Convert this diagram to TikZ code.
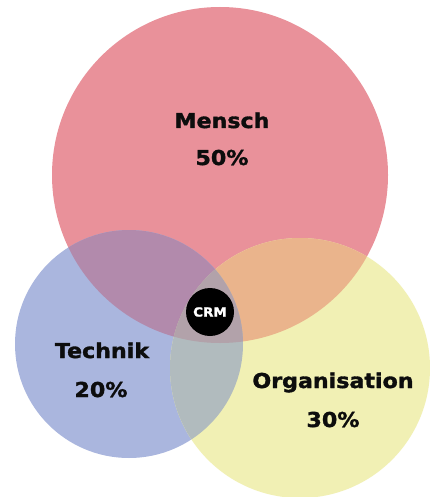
\documentclass[tikz,border=0pt]{standalone}
\usepackage{fontspec}
\usepackage{tikz}
\usetikzlibrary{positioning}

\newfontfamily\vennfont[FakeStretch=1.08, BoldFeatures={FakeBold=1.6}]{DejaVu Sans}

\definecolor{menschred}{RGB}{233,145,154}
\definecolor{technikblue}{RGB}{170,182,222}
\definecolor{orgyellow}{RGB}{241,240,180}
\definecolor{redblue}{RGB}{178,138,172}
\definecolor{redyellow}{RGB}{234,180,140}
\definecolor{blueyellow}{RGB}{177,187,190}
\definecolor{allthree}{RGB}{178,162,170}

\begin{document}
\begin{tikzpicture}[
            x=1pt, y=-1pt,
            area/.style={circle, inner sep=0pt, draw=none},
            caption/.style={font=\vennfont\bfseries\fontsize{20.5}{21}\selectfont, text=black!95, anchor=base, inner sep=0pt},
            core/.style={circle, fill=black, inner sep=0pt, minimum size=48pt, text=white, font=\vennfont\bfseries\fontsize{12.5}{13}\selectfont}
        ]
        \useasboundingbox[fill=white] (0,0) rectangle (430,497);
        % The three areas
        \node[area, fill=menschred, minimum size=336pt] (mensch) at (220,175) {};
        \node[area, fill=technikblue, minimum size=228pt] (technik) at (129,344) {};
        \node[area, fill=orgyellow, minimum size=260pt] (organisation) at (300,368) {};
        % Overlaps
        \begin{scope}
            \clip (220,175) circle (168);
            \fill[redblue] (129,344) circle (114);
            \fill[redyellow] (300,368) circle (130);
        \end{scope}
        \begin{scope}
            \clip (129,344) circle (114);
            \fill[blueyellow] (300,368) circle (130);
            \clip (220,175) circle (168);
            \fill[allthree] (300,368) circle (130);
        \end{scope}
        % Centre
        \node[core] (crm) at (210,312) {CRM};
        % Labels
        \node[caption] (menschname) at (222,128) {Mensch};
        \node[caption] (menschshare) at (222,165) {50\%};
        \node[caption] (techname) at (102,358) {Technik};
        \node[caption] (techshare) at (101,397) {20\%};
        \node[caption] (orgname) at (333,388) {Organisation};
        \node[caption] (orgshare) at (333,427) {30\%};
    \end{tikzpicture}
\end{document}
